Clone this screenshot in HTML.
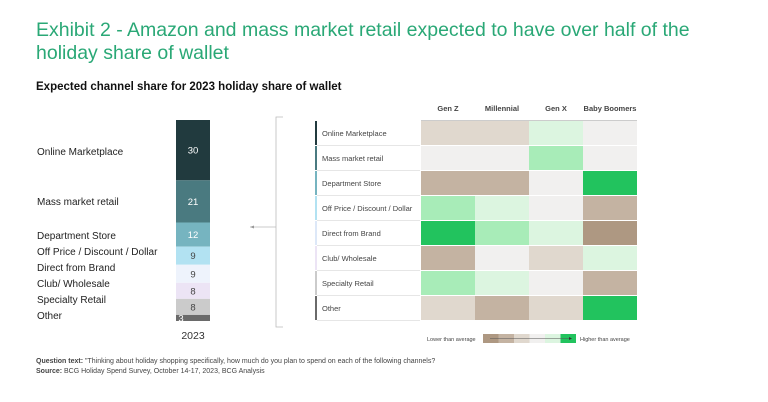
<!DOCTYPE html>
<html><head><meta charset="utf-8"><style>
body{margin:0;width:768px;height:402px;background:#fff;font-family:"Liberation Sans",sans-serif;overflow:hidden;position:relative}
.a{position:absolute}
</style></head><body>
<div class="a" style="left:36px;top:19px;font-size:19.5px;line-height:23px;color:#2aa876;white-space:nowrap">Exhibit 2 - Amazon and mass market retail expected to have over half of the<br>holiday share of wallet</div>
<div class="a" style="left:36px;top:81px;font-size:11.5px;font-weight:bold;color:#111">Expected channel share for 2023 holiday share of wallet</div>
<svg class="a" id="chart" style="left:0;top:0" width="768" height="402"></svg>
<div class="a" style="left:36px;top:357px;font-size:7px;line-height:10px;color:#444"><b>Question text:</b> "Thinking about holiday shopping specifically, how much do you plan to spend on each of the following channels?<br><b>Source:</b> BCG Holiday Spend Survey, October 14-17, 2023, BCG Analysis</div>
<script>
const channels=["Online Marketplace","Mass market retail","Department Store","Off Price / Discount / Dollar","Direct from Brand","Club/ Wholesale","Specialty Retail","Other"];
const shares=[30,21,12,9,9,8,8,3];
const generations=["Gen Z","Millennial","Gen X","Baby Boomers"];
const heat=[[2,2,4,3],[3,3,5,3],[1,1,3,6],[5,4,3,1],[6,5,4,0],[1,3,2,4],[5,4,3,1],[2,1,2,6]];
const barCols=["#213a3e","#4a7a80","#76b4c0","#b2e2f2","#eef3fc","#ece4f5","#cbcbcb","#6a6a6a"];
const txtCols=["#fff","#fff","#fff","#444","#444","#444","#444","#fff"];
const heatCols=["#ae9882","#c4b3a2","#e0d8ce","#f1f0ef","#dcf5e0","#a8ecb8","#22c35e"];
const NS="http://www.w3.org/2000/svg",svg=document.getElementById("chart");
function mk(t,a,p){const e=document.createElementNS(NS,t);for(const k in a)e.setAttribute(k,a[k]);(p||svg).appendChild(e);return e;}
const total=shares.reduce((a,b)=>a+b,0),barTop=120,barH=201,barX=176,barW=34;
const y=v=>barTop+v/total*barH;
let cum=0;
shares.forEach((s,i)=>{
 const y0=y(cum),y1=y(cum+s);cum+=s;
 const r=mk("rect",{x:barX,y:y0,width:barW,height:y1-y0,fill:barCols[i]});
 
 
 const t=mk("text",{x:barX+barW/2+(i==7?-12:0),y:(y0+y1)/2+3.5,"text-anchor":"middle","font-size":9.5,fill:txtCols[i]});t.textContent=s;
 
 
 const ly=[151,201,235,251,267,283,299,315][i];
 const l=mk("text",{x:37,y:ly+4,"font-size":10,fill:"#222"});l.textContent=channels[i];
 
 
});
const yr=mk("text",{x:193,y:339,"text-anchor":"middle","font-size":10.5,fill:"#333"});yr.textContent="2023";


mk("path",{d:"M283 117H276V327H283M276 227H250",stroke:"#bbb",fill:"none","stroke-width":0.8});
mk("path",{d:"M250 227l4 -1.5v3z",fill:"#999"});
const hx=421,cw=54,hy=121,rh=25;
generations.forEach((g,j)=>{const t=mk("text",{x:hx+cw*j+cw/2,y:111,"text-anchor":"middle","font-size":7.5,"font-weight":"bold",fill:"#444"});t.textContent=g;
 
 });
mk("line",{x1:421,x2:637,y1:120.5,y2:120.5,stroke:"#ccc"});
heat.forEach((row,i)=>{
 const ry=hy+rh*i;
 mk("rect",{x:315,y:ry,width:2,height:rh-1,fill:barCols[i]==="#eef3fc"?"#dde8f8":barCols[i]});
 const l=mk("text",{x:322,y:ry+15,"font-size":7.5,fill:"#444"});l.textContent=channels[i];
 
 
 mk("line",{x1:317,x2:420,y1:ry+rh-0.5,y2:ry+rh-0.5,stroke:"#e6e6e6"});
 row.forEach((v,j)=>{const c=mk("rect",{x:hx+cw*j,y:ry,width:cw,height:rh-1,fill:heatCols[v]});
  
  });
});
const lg=[0,1,2,3,4,6];
lg.forEach((v,k)=>mk("rect",{x:483+k*15.5,y:334,width:15.5,height:9,fill:heatCols[v]}));
mk("line",{x1:490,x2:570,y1:338.5,y2:338.5,stroke:"#555","stroke-width":0.6});
mk("path",{d:"M572 338.5l-3 -1.5v3z",fill:"#333"});
const lt=mk("text",{x:427,y:341,"font-size":5.5,fill:"#444"});lt.textContent="Lower than average";

const ht=mk("text",{x:580,y:341,"font-size":5.5,fill:"#444"});ht.textContent="Higher than average";

</script>
</body></html>
